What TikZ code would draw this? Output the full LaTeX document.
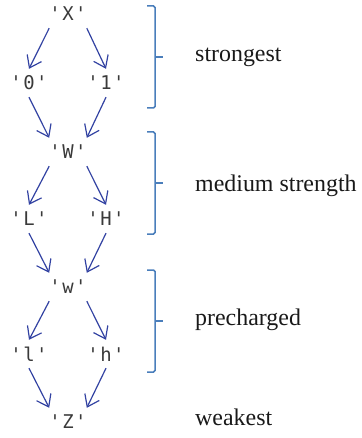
\documentclass[tikz,border=0pt]{standalone}
\usepackage{fontspec}
\setmainfont{Liberation Serif}
\newfontfamily\valfont[LetterSpace=8]{DejaVu Sans Mono}
\usetikzlibrary{arrows.meta}
\definecolor{orderblue}{HTML}{3242A2}
\definecolor{groupblue}{HTML}{4A7EBB}
\definecolor{valgray}{HTML}{3A3A3A}

\begin{document}
\begin{tikzpicture}[x=1bp, y=-1bp,
    val/.style={minimum width=30bp, minimum height=28bp, inner sep=0pt, text=valgray,
        font=\valfont\fontsize{19}{19}\selectfont},
    order/.style={draw=orderblue, line width=1.2bp, -{Straight Barb[length=11bp, width=16bp]}},
    group/.style={draw=groupblue, line width=1.5bp, rounded corners=1.5bp},
    grouplabel/.style={anchor=base west, inner sep=0pt, text=black!90,
        font=\fontsize{24}{28}\selectfont}]
    \useasboundingbox (0,0) rectangle (361,438);

    \node[val] (X) at (68, 14) {'X'};
    \node[val] (zero) at (29, 83) {'0'};
    \node[val] (one) at (106, 83) {'1'};
    \node[val] (W) at (68, 152) {'W'};
    \node[val] (L) at (29, 219) {'L'};
    \node[val] (H) at (106, 219) {'H'};
    \node[val] (w) at (68, 287) {'w'};
    \node[val] (l) at (29, 354) {'l'};
    \node[val] (h) at (106, 354) {'h'};
    \node[val] (Z) at (68, 422) {'Z'};

    \foreach \top/\low in {X/zero, W/L, w/l} {
        \draw[order] (\top.south west) -- (\low.north);
    }
    \foreach \top/\low in {X/one, W/H, w/h} {
        \draw[order] (\top.south east) -- (\low.north);
    }
    \foreach \up/\down in {zero/W, L/w, l/Z} {
        \draw[order] (\up.south) -- (\down.north west);
    }
    \foreach \up/\down in {one/W, H/w, h/Z} {
        \draw[order] (\up.south) -- (\down.north east);
    }

    \foreach \ya/\yb in {6/108, 132/234, 270/372} {
        \draw[group] (147, \ya) -- (155, \ya) -- (155, \yb) -- (147, \yb);
        \draw[group] (155, {(\ya+\yb)/2}) -- (163, {(\ya+\yb)/2});
    }

    \node[grouplabel] (strong) at (195, 62) {strongest};
    \node[grouplabel] (medium) at (195, 192) {medium strength};
    \node[grouplabel] (precharge) at (195, 325) {precharged};
    \node[grouplabel] (weak) at (195, 425) {weakest};
\end{tikzpicture}
\end{document}
